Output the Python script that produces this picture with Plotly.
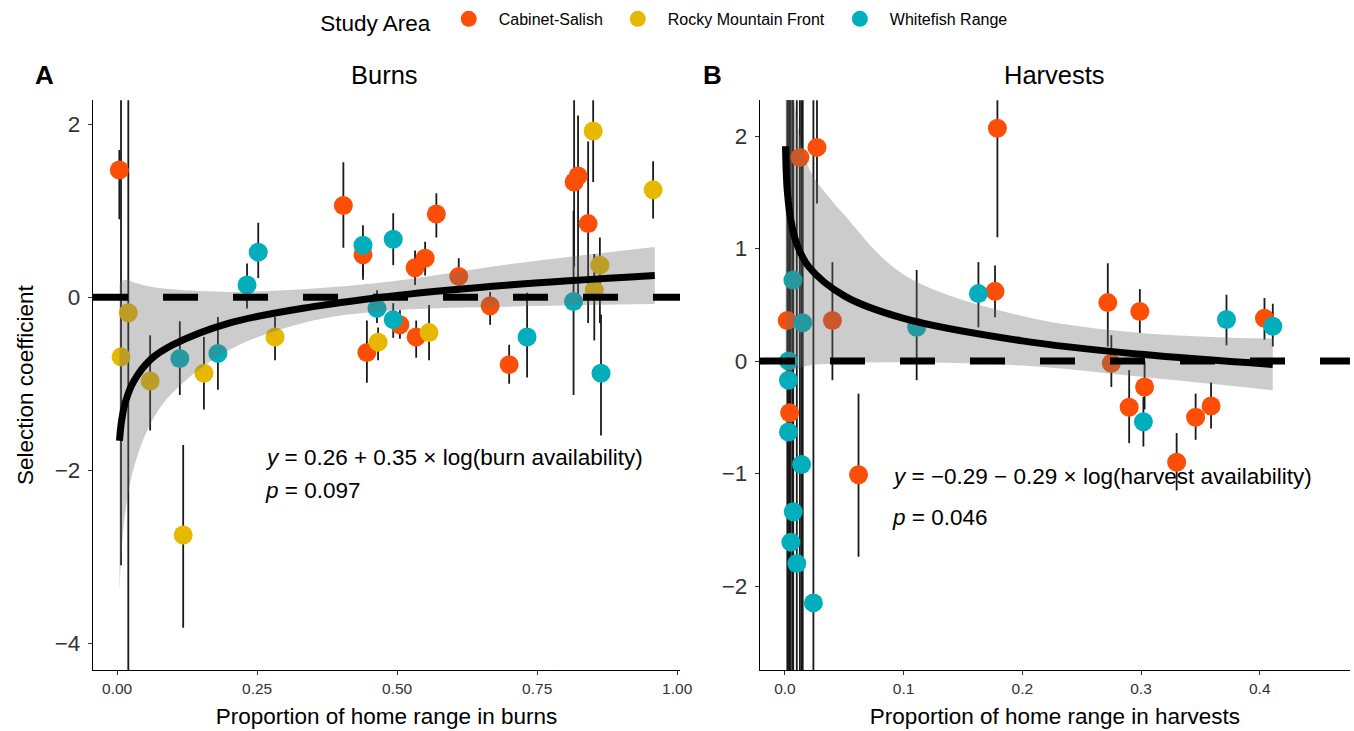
import plotly.graph_objects as go

# ---------------- data ----------------
AREAS = ["Cabinet-Salish", "Rocky Mountain Front", "Whitefish Range"]
AREA_COLORS = ["#FC4E07", "#E7B800", "#00AFBB"]

# Panel A: Burns  (x = proportion of home range in burns, y = selection coefficient, lo/hi = interval)
burn_cs_x = [0.004, 0.404, 0.439, 0.446, 0.505, 0.532, 0.534, 0.550, 0.570, 0.610, 0.666, 0.700, 0.816, 0.823, 0.841]
burn_cs_y = [1.47, 1.06, 0.49, -0.64, -0.32, 0.34, -0.46, 0.45, 0.96, 0.24, -0.10, -0.78, 1.33, 1.40, 0.85]
burn_cs_lo = [0.90, 0.57, 0.25, -0.99, -0.48, 0.14, -0.70, 0.25, 0.69, 0.05, -0.32, -1.00, 0.35, 0.00, -0.30]
burn_cs_hi = [1.70, 1.56, 0.70, -0.27, -0.15, 0.54, -0.27, 0.64, 1.20, 0.45, 0.06, -0.55, 2.40, 2.10, 1.80]

burn_rmf_x = [0.007, 0.020, 0.059, 0.118, 0.155, 0.282, 0.466, 0.557, 0.850, 0.852, 0.862, 0.957]
burn_rmf_y = [-0.69, -0.18, -0.97, -2.75, -0.88, -0.46, -0.52, -0.41, 1.92, 0.08, 0.37, 1.24]
burn_rmf_lo = [-3.10, -4.50, -1.54, -3.82, -1.30, -0.73, -0.73, -0.73, 1.33, -0.50, -0.30, 0.91]
burn_rmf_hi = [2.40, 2.40, -0.44, -1.71, -0.46, -0.23, -0.35, -0.09, 2.40, 0.50, 0.69, 1.57]

burn_wr_x = [0.112, 0.180, 0.232, 0.252, 0.439, 0.464, 0.493, 0.493, 0.732, 0.815, 0.864]
burn_wr_y = [-0.71, -0.65, 0.14, 0.52, 0.60, -0.13, 0.67, -0.26, -0.46, -0.05, -0.88]
burn_wr_lo = [-1.13, -1.07, -0.13, 0.22, 0.20, -0.30, 0.37, -0.47, -0.93, -1.13, -1.60]
burn_wr_hi = [-0.28, -0.23, 0.39, 0.86, 0.83, 0.08, 0.97, -0.07, 0.05, 1.00, -0.20]

# fitted curve and its ribbon, panel A
burn_fit_x = [0.0042, 0.008, 0.015, 0.03, 0.06, 0.10, 0.20, 0.35, 0.50, 0.70, 0.96]
burn_fit_y = [-1.66, -1.43, -1.21, -0.97, -0.72, -0.55, -0.30, -0.11, 0.02, 0.14, 0.25]
burn_fit_lo = [-3.40, -2.93, -2.47, -1.97, -1.46, -1.10, -0.61, -0.27, -0.15, -0.11, -0.08]
burn_fit_hi = [0.15, 0.18, 0.20, 0.17, 0.12, 0.09, 0.06, 0.10, 0.19, 0.38, 0.58]

# Panel B: Harvests
harv_cs_x = [0.002, 0.004, 0.0126, 0.027, 0.040, 0.062, 0.177, 0.179, 0.272, 0.275, 0.290, 0.299, 0.303, 0.330, 0.346, 0.359, 0.404]
harv_cs_y = [0.36, -0.46, 1.81, 1.90, 0.36, -1.01, 0.62, 2.07, 0.52, -0.02, -0.41, 0.44, -0.23, -0.90, -0.50, -0.40, 0.38]
harv_cs_lo = [-3.0, -3.0, -3.0, 1.40, -0.17, -1.74, 0.39, 1.10, 0.13, -0.23, -0.73, 0.25, -0.43, -1.15, -0.70, -0.60, 0.19]
harv_cs_hi = [3.0, 3.0, 3.0, 3.0, 0.88, -0.29, 0.85, 3.0, 0.87, 0.23, -0.08, 0.64, 0.00, -0.64, -0.29, -0.19, 0.56]

harv_wr_x = [0.003, 0.003, 0.003, 0.005, 0.0067, 0.007, 0.010, 0.014, 0.015, 0.024, 0.111, 0.163, 0.302, 0.372, 0.411]
harv_wr_y = [0.00, -0.17, -0.63, -1.61, 0.72, -1.34, -1.80, -0.92, 0.34, -2.15, 0.30, 0.60, -0.54, 0.37, 0.31]
harv_wr_lo = [-3.0, -3.0, -3.0, -3.0, -3.0, -3.0, -3.0, -3.0, -3.0, -3.0, -0.17, 0.30, -0.76, 0.14, 0.13]
harv_wr_hi = [3.0, 3.0, 3.0, 3.0, 3.0, 3.0, 3.0, 3.0, 3.0, 3.0, 0.81, 0.88, -0.32, 0.59, 0.51]

harv_fit_x = [0.0005, 0.001, 0.002, 0.005, 0.01, 0.02, 0.05, 0.10, 0.20, 0.30, 0.411]
harv_fit_y = [1.91, 1.71, 1.51, 1.25, 1.04, 0.84, 0.58, 0.38, 0.18, 0.06, -0.03]
harv_fit_lo = [-0.18, -0.15, -0.12, -0.09, -0.07, -0.04, -0.02, -0.01, -0.04, -0.14, -0.26]
harv_fit_hi = [4.00, 3.57, 3.14, 2.59, 2.15, 1.72, 1.30, 0.77, 0.40, 0.25, 0.20]

burn_x_ticks = [0, 0.25, 0.5, 0.75, 1.0]
burn_x_ticktext = ["0.00", "0.25", "0.50", "0.75", "1.00"]
harv_x_ticks = [0, 0.1, 0.2, 0.3, 0.4]
harv_x_ticktext = ["0.0", "0.1", "0.2", "0.3", "0.4"]
burn_y_ticks = [-4, -2, 0, 2]
harv_y_ticks = [-2, -1, 0, 1, 2]

burn_eq = "<i>y</i> = 0.26 + 0.35 × log(burn availability)"
burn_p = "<i>p</i> = 0.097"
harv_eq = "<i>y</i> = −0.29 − 0.29 × log(harvest availability)"
harv_p = "<i>p</i> = 0.046"

FONT = "Liberation Sans, Arial, Helvetica, sans-serif"
RIBBON = "rgba(110,110,110,0.35)"

burn_groups = [
    (burn_cs_x, burn_cs_y, burn_cs_lo, burn_cs_hi),
    (burn_rmf_x, burn_rmf_y, burn_rmf_lo, burn_rmf_hi),
    (burn_wr_x, burn_wr_y, burn_wr_lo, burn_wr_hi),
]
harv_groups = [
    (harv_cs_x, harv_cs_y, harv_cs_lo, harv_cs_hi, 0),
    (harv_wr_x, harv_wr_y, harv_wr_lo, harv_wr_hi, 2),
]

fig = go.Figure()


def error_segments(groups):
    xs, ys = [], []
    for g in groups:
        gx, glo, ghi = g[0], g[2], g[3]
        for xv, lo, hi in zip(gx, glo, ghi):
            xs += [xv, xv, None]
            ys += [lo, hi, None]
    return xs, ys


# ---- panel A ----
ex, ey = error_segments(burn_groups)
fig.add_trace(go.Scatter(x=ex, y=ey, mode="lines", line=dict(color="#1a1a1a", width=1.8),
                         showlegend=False, hoverinfo="skip", xaxis="x", yaxis="y"))
for i, (gx, gy, glo, ghi) in enumerate(burn_groups):
    fig.add_trace(go.Scatter(x=gx, y=gy, mode="markers", name=AREAS[i], legendgroup=AREAS[i],
                             marker=dict(color=AREA_COLORS[i], size=19, line=dict(width=0)),
                             showlegend=True, xaxis="x", yaxis="y"))
fig.add_trace(go.Scatter(x=burn_fit_x, y=burn_fit_lo, mode="lines", line=dict(width=0, shape="spline"),
                         showlegend=False, hoverinfo="skip", xaxis="x", yaxis="y"))
fig.add_trace(go.Scatter(x=burn_fit_x, y=burn_fit_hi, mode="lines", line=dict(width=0, shape="spline"),
                         fill="tonexty", fillcolor=RIBBON,
                         showlegend=False, hoverinfo="skip", xaxis="x", yaxis="y"))
fig.add_trace(go.Scatter(x=burn_fit_x, y=burn_fit_y, mode="lines", line=dict(color="black", width=7, shape="spline"),
                         showlegend=False, xaxis="x", yaxis="y"))

# ---- panel B ----
ex, ey = error_segments(harv_groups)
fig.add_trace(go.Scatter(x=ex, y=ey, mode="lines", line=dict(color="#1a1a1a", width=1.8),
                         showlegend=False, hoverinfo="skip", xaxis="x2", yaxis="y2"))
for gx, gy, glo, ghi, ci in harv_groups:
    fig.add_trace(go.Scatter(x=gx, y=gy, mode="markers", name=AREAS[ci], legendgroup=AREAS[ci],
                             marker=dict(color=AREA_COLORS[ci], size=19, line=dict(width=0)),
                             showlegend=False, xaxis="x2", yaxis="y2"))
fig.add_trace(go.Scatter(x=harv_fit_x, y=harv_fit_lo, mode="lines", line=dict(width=0, shape="spline"),
                         showlegend=False, hoverinfo="skip", xaxis="x2", yaxis="y2"))
fig.add_trace(go.Scatter(x=harv_fit_x, y=harv_fit_hi, mode="lines", line=dict(width=0, shape="spline"),
                         fill="tonexty", fillcolor=RIBBON,
                         showlegend=False, hoverinfo="skip", xaxis="x2", yaxis="y2"))
fig.add_trace(go.Scatter(x=harv_fit_x, y=harv_fit_y, mode="lines", line=dict(color="black", width=7, shape="spline"),
                         showlegend=False, xaxis="x2", yaxis="y2"))

# dashed zero reference lines
for xr, yr in [("x domain", "y"), ("x2 domain", "y2")]:
    fig.add_shape(type="line", xref=xr, yref=yr, x0=0, x1=1, y0=0, y1=0, layer="above",
                  line=dict(color="black", width=7, dash="35px,35px"))

axis_common = dict(showline=True, linecolor="black", linewidth=1.3, ticks="outside", ticklen=4,
                   tickcolor="#333333", tickwidth=1.2, showgrid=False, zeroline=False, automargin=False,
                   mirror=False)

fig.update_layout(
    width=1354, height=731,
    margin=dict(l=0, r=0, t=0, b=0),
    paper_bgcolor="white", plot_bgcolor="white",
    font=dict(family=FONT, color="black"),
    xaxis=dict(domain=[0.0687, 0.5022], range=[-0.043, 1.005], anchor="y",
               tickvals=burn_x_ticks, ticktext=burn_x_ticktext, tickfont=dict(size=15.5, color="#333333"),
               title=dict(text="Proportion of home range in burns", font=dict(size=22.5), standoff=12),
               **axis_common),
    yaxis=dict(domain=[0.0834, 0.863], range=[-4.31, 2.277], anchor="x",
               tickvals=burn_y_ticks, tickfont=dict(size=22.5, color="#333333"), ticklabelstandoff=3,
               title=dict(text="Selection coefficient", font=dict(size=22.5), standoff=14),
               **axis_common),
    xaxis2=dict(domain=[0.5613, 0.997], range=[-0.021, 0.476], anchor="y2",
                tickvals=harv_x_ticks, ticktext=harv_x_ticktext, tickfont=dict(size=15.5, color="#333333"),
                title=dict(text="Proportion of home range in harvests", font=dict(size=22.5), standoff=12),
                **axis_common),
    yaxis2=dict(domain=[0.0834, 0.863], range=[-2.747, 2.32], anchor="x2",
                tickvals=harv_y_ticks, tickfont=dict(size=22.5, color="#333333"), ticklabelstandoff=3,
                **axis_common),
    legend=dict(orientation="h", x=0.235, y=0.97, xanchor="left", yanchor="middle",
                itemwidth=50,
                title=dict(text="Study Area", font=dict(size=22.5, color="black")),
                font=dict(size=16, color="black"), bgcolor="rgba(0,0,0,0)"),
    showlegend=True,
)

annos = [
    dict(text="<b>A</b>", x=0.033, y=0.897, xref="paper", yref="paper", showarrow=False,
         font=dict(size=26), xanchor="center", yanchor="middle"),
    dict(text="<b>B</b>", x=0.526, y=0.897, xref="paper", yref="paper", showarrow=False,
         font=dict(size=26), xanchor="center", yanchor="middle"),
    dict(text="Burns", x=0.284, y=0.897, xref="paper", yref="paper", showarrow=False,
         font=dict(size=25.5), xanchor="center", yanchor="middle"),
    dict(text="Harvests", x=0.779, y=0.897, xref="paper", yref="paper", showarrow=False,
         font=dict(size=25.5), xanchor="center", yanchor="middle"),
    dict(text=burn_eq, x=0.261, y=-1.85, xref="x", yref="y", showarrow=False,
         font=dict(size=22.5), xanchor="left", yanchor="middle"),
    dict(text=burn_p, x=0.261, y=-2.23, xref="x", yref="y", showarrow=False,
         font=dict(size=22.5), xanchor="left", yanchor="middle"),
    dict(text=harv_eq, x=0.0885, y=-1.03, xref="x2", yref="y2", showarrow=False,
         font=dict(size=22.5), xanchor="left", yanchor="middle"),
    dict(text=harv_p, x=0.0885, y=-1.39, xref="x2", yref="y2", showarrow=False,
         font=dict(size=22.5), xanchor="left", yanchor="middle"),
]
fig.update_layout(annotations=annos)

fig.write_html("out.html")
